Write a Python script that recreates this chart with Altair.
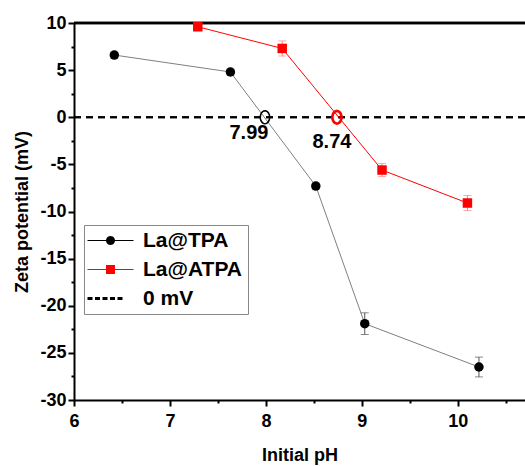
import math
import altair as alt
import pandas as pd

# ---------------- data ----------------
ph_tpa = [6.42, 7.63, 8.52, 9.03, 10.22]
zeta_tpa = [6.6, 4.8, -7.3, -21.9, -26.5]
err_tpa = [0.3, 0.3, 0.3, 1.15, 1.05]

ph_atpa = [7.29, 8.17, 9.21, 10.10]
zeta_atpa = [9.6, 7.3, -5.6, -9.1]
err_atpa = [0.3, 0.8, 0.7, 0.8]

pzc_ph = [7.99, 8.74]
pzc_zeta = [0, 0]
pzc_label = ["7.99", "8.74"]

series_names = ["La@TPA", "La@ATPA", "0 mV"]
series_colors = ["black", "red", "black"]

x_ticks = [6, 6.5, 7, 7.5, 8, 8.5, 9, 9.5, 10, 10.5]
y_ticks = [-30, -27.5, -25, -22.5, -20, -17.5, -15, -12.5, -10, -7.5, -5, -2.5, 0, 2.5, 5, 7.5, 10]

FONT = "Liberation Sans"

tpa = pd.DataFrame({"ph": ph_tpa, "zeta": zeta_tpa,
                    "lo": [z - e for z, e in zip(zeta_tpa, err_tpa)],
                    "hi": [z + e for z, e in zip(zeta_tpa, err_tpa)]})
atpa = pd.DataFrame({"ph": ph_atpa, "zeta": zeta_atpa,
                     "lo": [z - e for z, e in zip(zeta_atpa, err_atpa)],
                     "hi": [z + e for z, e in zip(zeta_atpa, err_atpa)]})
pzc = pd.DataFrame({"ph": pzc_ph, "zeta": pzc_zeta, "label": pzc_label})
legend_df = pd.DataFrame({"series": series_names, "ph": [6.0] * 3, "zeta": [0.0] * 3})

# ---------------- legend symbol paths (unit = sqrt(size)/2 px) ----------------
def poly_circle(r, n=24):
    pts = [(r * math.cos(2 * math.pi * i / n), r * math.sin(2 * math.pi * i / n)) for i in range(n)]
    return "M" + " L".join(f"{x:.3f},{y:.3f}" for x, y in pts) + " Z"

def rect(x0, x1, h):
    return f"M{x0},{-h} L{x1},{-h} L{x1},{h} L{x0},{h} Z"

sym_tpa = rect(-4.6, 4.6, 0.1) + " " + poly_circle(0.9)
sym_atpa = rect(-4.6, 4.6, 0.1) + " " + rect(-0.9, 0.9, 0.9)
sym_zero = " ".join(rect(a, b, 0.3) for a, b in [(-4.6, -3.6), (-3.1, -2.1), (-1.6, -0.6), (-0.1, 0.9), (1.4, 2.4)])

ellipse = "M0,-1 L" + " L".join(
    f"{0.72 * math.sin(2 * math.pi * i / 24):.3f},{-math.cos(2 * math.pi * i / 24):.3f}" for i in range(1, 24)) + " Z"

# ---------------- scales / axes ----------------
xs = alt.Scale(domain=[6, 10.7], nice=False, zero=False)
ys = alt.Scale(domain=[-30, 10], nice=False, zero=False)

xaxis = alt.Axis(values=x_ticks, title="Initial pH",
                 labelExpr="datum.value % 1 === 0 ? '' + datum.value : ''",
                 tickSize={"condition": {"test": "datum.value % 1 !== 0", "value": 3}, "value": 6},
                 labelFlush=False, labelOverlap=False, grid=False,
                 labelPadding=6, titlePadding=16)
yaxis = alt.Axis(values=y_ticks, title="Zeta potential (mV)",
                 labelExpr="datum.value % 5 === 0 ? '' + datum.value : ''",
                 tickSize={"condition": {"test": "datum.value % 5 !== 0", "value": 3}, "value": 6},
                 labelOverlap=False, grid=False, labelPadding=2, titlePadding=8)

X = alt.X("ph:Q", scale=xs, axis=xaxis)
Y = alt.Y("zeta:Q", scale=ys, axis=yaxis)

# zero line & top border
zero_line = alt.Chart(pzc).mark_rule(color="black", strokeWidth=2, strokeDash=[7, 5]).encode(
    y=alt.datum(0, scale=ys, axis=yaxis))
top_border = alt.Chart(pzc).mark_rule(color="black", strokeWidth=2.5).encode(
    y=alt.datum(10, scale=ys, axis=yaxis))

def series_layers(df, line_color, err_color, shape, fill):
    line = alt.Chart(df).mark_line(color=line_color, strokeWidth=1).encode(x=X, y=Y)
    err = alt.Chart(df).mark_errorbar(ticks={"size": 8}, color=err_color, thickness=1).encode(
        x=alt.X("ph:Q", scale=xs, axis=xaxis),
        y=alt.Y("lo:Q", scale=ys, axis=yaxis, title="Zeta potential (mV)"),
        y2="hi:Q")
    pts = alt.Chart(df).mark_point(shape=shape, filled=True, color=fill, size=90, opacity=1).encode(x=X, y=Y)
    return [line, err, pts]

tpa_layers = series_layers(tpa, "#808080", "#555555", "circle", "black")
atpa_layers = series_layers(atpa, "red", "#ff8080", "square", "red")

pzc1 = alt.Chart(pzc).transform_filter("datum.label == '7.99'").mark_point(
    shape=ellipse, filled=False, size=170, opacity=1, strokeWidth=1.6, color="black").encode(x=X, y=Y)
pzc2 = alt.Chart(pzc).transform_filter("datum.label == '8.74'").mark_point(
    shape=ellipse, filled=False, size=160, opacity=1, strokeWidth=2.6, color="red").encode(x=X, y=Y)

lab1 = alt.Chart(pzc).transform_filter("datum.label == '7.99'").mark_text(
    font=FONT, fontWeight="bold", fontSize=20, dx=-16, dy=22, baseline="alphabetic", color="black").encode(
    x=X, y=Y, text="label:N")
lab2 = alt.Chart(pzc).transform_filter("datum.label == '8.74'").mark_text(
    font=FONT, fontWeight="bold", fontSize=20, dx=-5, dy=31, baseline="alphabetic", color="black").encode(
    x=X, y=Y, text="label:N")

# legend-only layer: no rows survive the filter, the legend comes from the explicit domains
legend_layer = alt.Chart(legend_df).transform_filter("false").mark_point(filled=True, opacity=1).encode(
    x=X, y=Y,
    color=alt.Color("series:N", scale=alt.Scale(domain=series_names, range=series_colors),
                    legend=alt.Legend(title=None, orient="none", legendX=10, legendY=202,
                                      symbolSize=100, symbolOffset=11, labelOffset=22,
                                      rowPadding=7, padding=5, symbolOpacity=1,
                                      strokeColor="#888888", fillColor="white",
                                      labelFont=FONT, labelFontWeight="bold", labelFontSize=21,
                                      labelColor="black", symbolStrokeWidth=0)),
    shape=alt.Shape("series:N", scale=alt.Scale(domain=series_names, range=[sym_tpa, sym_atpa, sym_zero])))

chart = alt.layer(
    zero_line, top_border, *tpa_layers, *atpa_layers, pzc1, pzc2, lab1, lab2, legend_layer
).properties(
    width=451, height=377,
    autosize=alt.AutoSizeParams(type="none"),
    padding={"left": 74, "top": 23, "right": 0, "bottom": 66},
).configure_view(stroke=None).configure_axis(
    domainColor="black", domainWidth=2, tickColor="black", tickWidth=2,
    labelFont=FONT, labelFontWeight="bold", labelFontSize=18, labelColor="black",
    titleFont=FONT, titleFontWeight="bold", titleFontSize=18, titleColor="black",
)

chart.save("out.html", embed_options={"renderer": "svg", "actions": False})
